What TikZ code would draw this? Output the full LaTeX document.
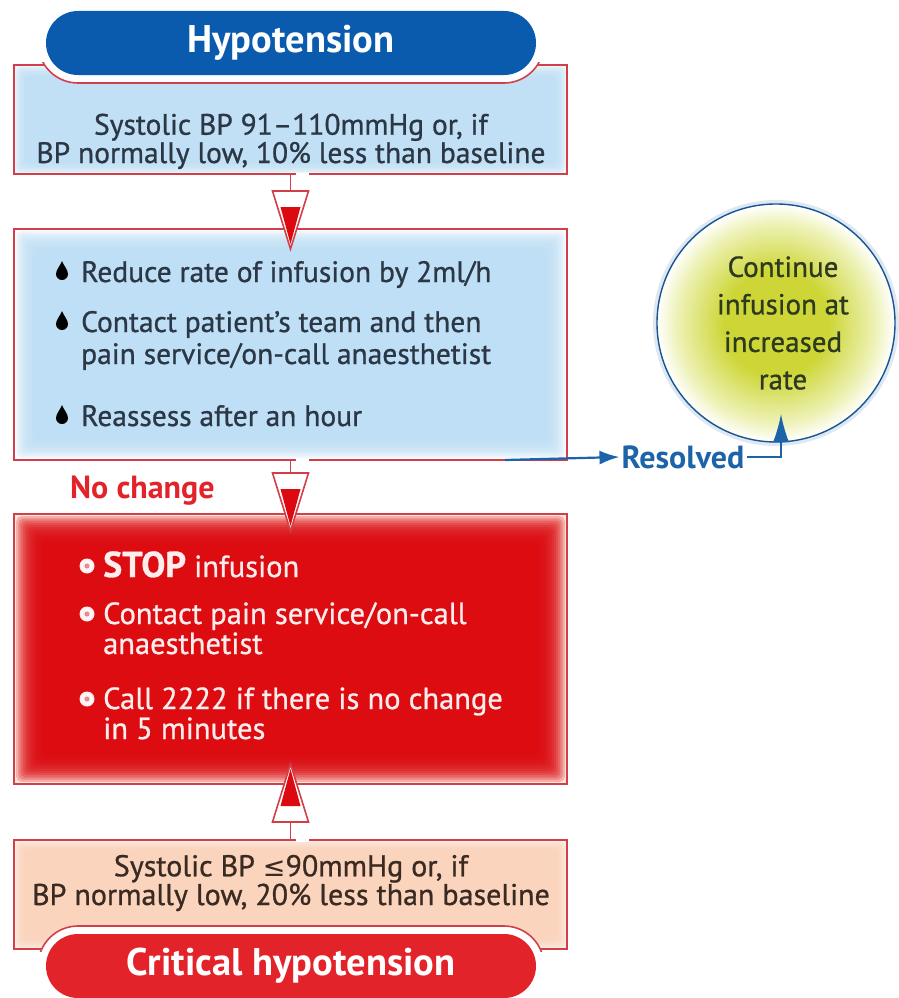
\documentclass[tikz,border=0pt]{standalone}
\usepackage{fontspec}
\setmainfont{PT Sans}
\newfontfamily\symfont{DejaVu Sans}
\newfontfamily\heavy[FakeBold=0.8]{PT Sans}
\usetikzlibrary{calc,arrows.meta}
\definecolor{hblue}{HTML}{0A5BAE}
\definecolor{bred}{HTML}{D23F4A}
\definecolor{lblue}{HTML}{BDDFF5}
\definecolor{cred}{HTML}{E3232A}
\definecolor{dred}{HTML}{DC0A10}
\definecolor{peach}{HTML}{FAD3BA}
\definecolor{lpeach}{HTML}{FBE6DA}
\definecolor{tdark}{HTML}{2B3744}
\definecolor{tbrown}{HTML}{3A2A22}
\definecolor{rblue}{HTML}{1D63AA}
\definecolor{ygc}{HTML}{CDD636}
\definecolor{ygl}{HTML}{EEF2B8}
\definecolor{cdark}{HTML}{2E3A1E}
\definecolor{ntext}{HTML}{FDEDED}
\pgfdeclareradialshading{yglow}{\pgfpoint{0bp}{0bp}}{color(0bp)=(ygc); color(11bp)=(ygc); color(21bp)=(ygl); color(25bp)=(white); color(50bp)=(white)}
\newcommand\fadebox[5]{%
  \foreach \i in {1,...,#3}{%
    \fill[#2, fill opacity=#5, rounded corners=5pt] ($(#1.north west)+(\i*#4,\i*#4)$) rectangle ($(#1.south east)-(\i*#4,\i*#4)$);}}
\newcommand\downtri[1]{%
  \filldraw[border, fill=white, line join=miter] ($(#1)+(-18,0)$) -- ($(#1)+(18,0)$) -- ($(#1)+(0,58)$) -- cycle;
  \fill[dred] ($(#1)+(-10,16)$) -- ($(#1)+(10,16)$) -- ($(#1)+(0,53)$) -- cycle;}
\newcommand\uptri[1]{%
  \filldraw[border, fill=white, line join=miter] ($(#1)+(-18,0)$) -- ($(#1)+(18,0)$) -- ($(#1)+(0,-58)$) -- cycle;
  \fill[dred] ($(#1)+(-10,-16)$) -- ($(#1)+(10,-16)$) -- ($(#1)+(0,-53)$) -- cycle;}
\begin{document}
\begin{tikzpicture}[x=1pt,y=-1pt,
  boxn/.style={rectangle, inner sep=0pt, outer sep=0pt, minimum width=553pt},
  border/.style={draw=bred, line width=1.6pt},
  pill/.style={rectangle, rounded corners=32pt, minimum width=490pt, minimum height=64pt, inner sep=0pt, text=white, font=\fontsize{38.5}{40}\bfseries\selectfont},
  txt/.style={inner sep=0pt, font=\heavy\fontsize{29.5}{30}\selectfont, text=tdark},
  wtxt/.style={inner sep=0pt, font=\heavy\fontsize{30.5}{30}\selectfont, text=ntext},
  btxt/.style={inner sep=0pt, font=\heavy\fontsize{30}{26}\selectfont, text=tbrown},
  gap/.style={white, line width=3pt}
]
\useasboundingbox (0,0) rectangle (899,998);
\fill[white] (0,0) rectangle (899,998);

% boxes (geometry)
\path node[boxn, minimum height=109pt] (b1) at (290.5,119.5) {};
\path node[boxn, minimum height=231pt] (b2) at (290.5,344.5) {};
\path node[boxn, minimum height=270pt] (b3) at (290.5,649) {};
\path node[boxn, minimum height=109pt] (b4) at (290.5,894.5) {};

% fills
\fill[white!70!lblue] (b1.north west) rectangle (b1.south east);
\fadebox{b1}{lblue}{6}{2}{0.3}
\fadebox{b2}{lblue}{12}{2}{0.22}
\fill[lpeach] (b3.north west) rectangle (b3.south east);
\fadebox{b3}{dred}{14}{2.2}{0.25}
\fill[white!60!peach] (b4.north west) rectangle (b4.south east);
\fadebox{b4}{peach}{5}{2}{0.35}

% borders
\draw[border] (b1.north west) rectangle (b1.south east);
\draw[border] (b2.north west) rectangle (b2.south east);
\draw[border] (b3.north west) rectangle (b3.south east);
\draw[border] (b4.north west) rectangle (b4.south east);

% notches around the pills
\begin{scope}
  \clip (0,63) rectangle (899,200);
  \draw[border, fill=white, rounded corners=40pt] (38,3) rectangle (544,83);
\end{scope}
\begin{scope}
  \clip (0,900) rectangle (899,951);
  \draw[border, fill=white, rounded corners=40pt] (38,926) rectangle (544,1006);
\end{scope}

% pills
\node[pill, fill=hblue] (p1) at (291,43) {Hypotension};
\node[pill, fill=cred] (p2) at (291,966) {Critical hypotension};

% box 1 text
\node[txt, anchor=base, align=center, font=\heavy\fontsize{29.5}{26}\selectfont] (t1) at (291,163) {Systolic BP 91–110mmHg or, if\\BP normally low, 10\% less than baseline};

% box 2 bullets and text
\foreach \yy in {272,322,416}{
  \fill[black] (62,\yy-11) .. controls (60,\yy-6) and (56,\yy-2) .. (56,\yy+2) arc (180:0:6) .. controls (68,\yy-2) and (64,\yy-6) .. (62,\yy-11) -- cycle;
}
\node[txt, anchor=base west] (t2a) at (81,282) {Reduce rate of infusion by 2ml/h};
\node[txt, anchor=base west, align=left, font=\heavy\fontsize{29.5}{32}\selectfont] (t2b) at (81,364) {Contact patient’s team and then\\pain service/on-call anaesthetist};
\node[txt, anchor=base west] (t2d) at (81,426) {Reassess after an hour};

% box 3 bullets and text
\foreach \yy in {566,614,699}{
  \fill[white!75!pink] (87,\yy) circle (7.5);
  \draw[white, line width=1pt] (87,\yy) circle (5);
  \fill[bred!60!white] (87,\yy) circle (2.5);
}
\node[wtxt, anchor=base west] (t3a) at (103,577) {{\fontsize{36}{38}\bfseries\selectfont STOP} infusion};
\node[wtxt, anchor=base west, align=left] (t3b) at (103,654) {Contact pain service/on-call\\anaesthetist};
\node[wtxt, anchor=base west, align=left] (t3d) at (103,739) {Call 2222 if there is no change\\in 5 minutes};

% box 4 text
\node[btxt, anchor=base, align=center] (t4) at (291,905) {Systolic BP {\symfont\fontsize{27}{26}\selectfont ≤}90mmHg or, if\\BP normally low, 20\% less than baseline};

% No change label
\node[inner sep=0pt, anchor=base west, text=cred, font=\fontsize{32}{34}\bfseries\selectfont] (nc) at (70,498) {No change};

% connectors
\draw[gap] ($(b1.south)+(5,0)$) -- ++(13,0);
\draw[gap] ($(b2.south)+(5,0)$) -- ++(13,0);
\draw[gap] ($(b4.north)+(5,0)$) -- ++(13,0);
\draw[border] (b1.south) -- ++(0,17) coordinate (a1);
\downtri{a1}
\draw[border] (b2.south) -- ++(0,13) coordinate (a2);
\downtri{a2}
\draw[border] (b4.north) -- ++(0,-18) coordinate (a3);
\uptri{a3}

% outcome circle
\node[circle, minimum size=240pt, inner sep=0pt, draw=rblue!15, line width=6pt] (cg) at (776,323) {};
\node[circle, minimum size=238pt, inner sep=0pt, shading=yglow, draw=rblue!85!black, line width=1.4pt] (c) at (776,323) {};
\node[inner sep=0pt, align=center, text=cdark, font=\heavy\fontsize{29}{37.5}\selectfont] (ct) at (783,323) {Continue\\infusion at\\increased\\rate};

% resolved arrows
\node[inner sep=2pt, text=rblue, font=\fontsize{32}{34}\bfseries\selectfont] (res) at (683,457) {Resolved};
\coordinate (rs) at ($(b2.south east)+(-62,0)$);
\coordinate (ctip) at (781,414);
\draw[rblue, line width=2.2pt, -{Latex[length=20pt,width=14pt]}] (rs) -- (res.west);
\draw[rblue, line width=1.8pt, -{Latex[length=28pt,width=16pt]}] (res.east) -| (ctip);
\end{tikzpicture}
\end{document}
